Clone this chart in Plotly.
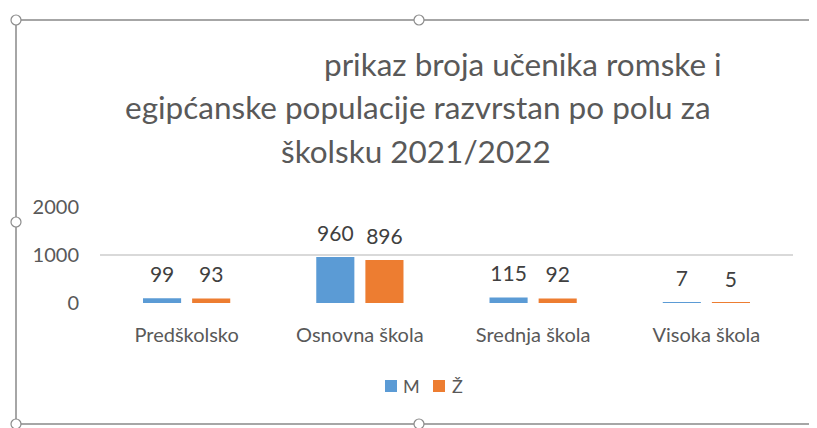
import plotly.graph_objects as go

categories = ["Predškolsko", "Osnovna škola", "Srednja škola", "Visoka škola"]
m_values = [99, 960, 115, 7]
z_values = [93, 896, 92, 5]
series_names = ["M", "Ž"]
series_colors = ["#5B9BD5", "#ED7D31"]
y_ticks = [0, 1000, 2000]
title_lines = ["prikaz broja učenika romske i",
               "egipćanske populacije razvrstan po polu za",
               "školsku 2021/2022"]

W, H = 817, 428
OFF = 8  # page body margin offset
FONT = "Lato"
GREY = "#595959"

def px(x):
    return (x - OFF) / W

def py(y):
    return 1 - (y - OFF) / H

BARGAP = 0.433
fig = go.Figure()
for name, vals, col in zip(series_names, [m_values, z_values], series_colors):
    fig.add_trace(go.Bar(
        x=categories, y=vals, name=name, marker=dict(color=col, line=dict(width=0)),
        showlegend=False, hoverinfo="x+y",
    ))
for name, vals in zip(series_names, [m_values, z_values]):
    fig.add_trace(go.Scatter(
        x=categories, y=vals, name=name, mode="markers+text", text=[str(v) for v in vals],
        textposition="top center", cliponaxis=False, showlegend=False, hoverinfo="skip",
        marker=dict(size=16, color="rgba(0,0,0,0)"),
        textfont=dict(family=FONT, size=21, color="#404040"),
    ))

annotations = []
title_font = dict(family=FONT, size=31.5, color=GREY)
annotations.append(dict(text=title_lines[0], xref="paper", yref="paper", x=px(322), y=py(64),
                        xanchor="left", yanchor="middle", showarrow=False, font=title_font))
annotations.append(dict(text=title_lines[1], xref="paper", yref="paper", x=px(418), y=py(107),
                        xanchor="center", yanchor="middle", showarrow=False, font=title_font))
annotations.append(dict(text=title_lines[2], xref="paper", yref="paper", x=px(416), y=py(151),
                        xanchor="center", yanchor="middle", showarrow=False, font=title_font))

shapes = []
border = "#a6a6a6"
shapes.append(dict(type="line", xref="paper", yref="paper", x0=px(16), x1=1.0, y0=py(20), y1=py(20), line=dict(color=border, width=2)))
shapes.append(dict(type="line", xref="paper", yref="paper", x0=px(16), x1=px(16), y0=py(20), y1=py(424), line=dict(color=border, width=2)))
shapes.append(dict(type="line", xref="paper", yref="paper", x0=px(16), x1=1.0, y0=py(424), y1=py(424), line=dict(color=border, width=2)))
for hx, hy in [(16, 20), (419, 20), (16, 222), (16, 424), (419, 424), (819, 222)]:
    r = 5
    shapes.append(dict(type="circle", xref="paper", yref="paper",
                       x0=px(hx - r), x1=px(hx + r), y0=py(hy + r), y1=py(hy - r),
                       line=dict(color="#8c8c8c", width=1.2), fillcolor="white"))

# legend: coloured keys + names
legend_keys = [(385, 403), (433, 452)]
for (kx, tx), name, col in zip(legend_keys, series_names, series_colors):
    shapes.append(dict(type="rect", xref="paper", yref="paper", x0=px(kx), x1=px(kx + 12),
                       y0=py(392), y1=py(380), line=dict(width=0), fillcolor=col))
    annotations.append(dict(text=name, xref="paper", yref="paper", x=px(tx - 2), y=py(386),
                            xanchor="left", yanchor="middle", showarrow=False,
                            font=dict(family=FONT, size=18, color=GREY)))

fig.update_layout(
    width=W, height=H,
    margin=dict(l=0, r=0, t=0, b=0, pad=0, autoexpand=False),
    paper_bgcolor="white", plot_bgcolor="white",
    font=dict(family=FONT, color=GREY),
    barmode="group", bargap=BARGAP, bargroupgap=0.224,
    scattermode="group", scattergap=BARGAP,
    xaxis=dict(domain=[px(100), px(793)], showgrid=False, showline=False, zeroline=False, automargin=False,
               ticks="", tickfont=dict(family=FONT, size=20, color=GREY), ticklabelstandoff=18),
    yaxis=dict(domain=[py(303), py(207)], range=[0, 2000], tickvals=y_ticks, automargin=False,
               showgrid=True, gridcolor="#d9d9d9", gridwidth=1.5, zeroline=False, showline=False,
               ticks="", tickfont=dict(family=FONT, size=20, color=GREY), ticklabelstandoff=20),
    showlegend=False,
    annotations=annotations,
    shapes=shapes,
)

fig.write_html("out.html")
